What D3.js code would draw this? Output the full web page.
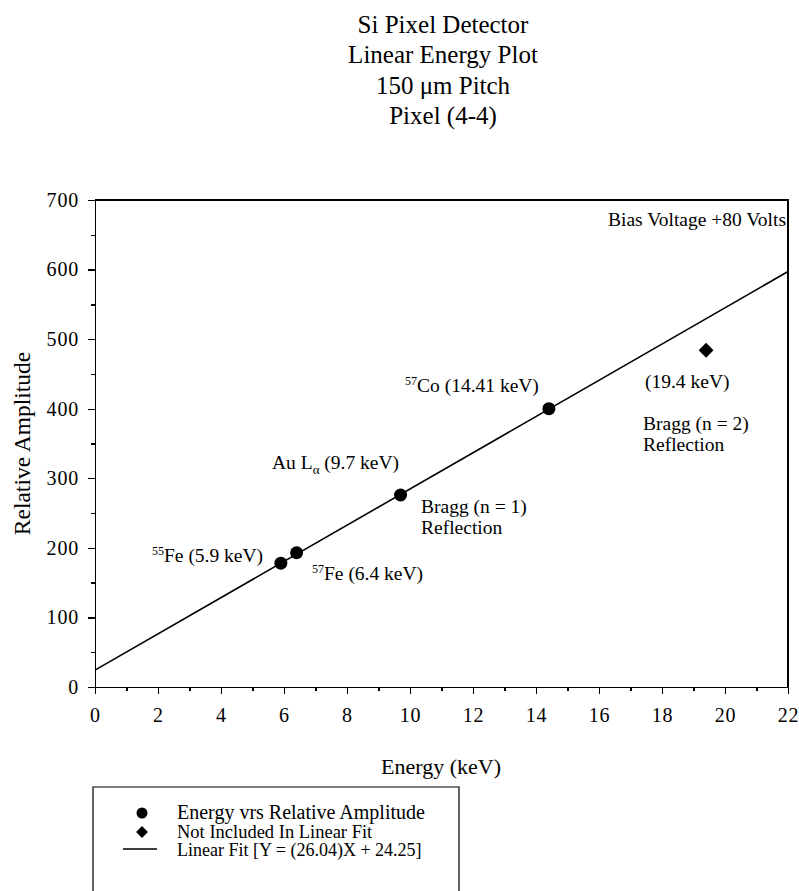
<!DOCTYPE html>
<html lang="en">
<head>
<meta charset="utf-8">
<title>Si Pixel Detector - Linear Energy Plot</title>
<script src="https://cdn.jsdelivr.net/npm/d3@7"></script>
<style>
body { margin: 0; background: #fff; }
.axis path, .axis line { stroke: #000; stroke-width: 1.4; shape-rendering: crispEdges; }
</style>
</head>
<body>
<script>
// measured points (energy keV, relative amplitude)
var energies = [5.9, 6.4, 9.7, 14.41];
var amplitudes = [178, 193, 276, 400];
// Bragg n=2 point, left out of the fit
var outEnergy = [19.4];
var outAmplitude = [484];
// fit from the legend
var fitSlope = 26.04;
var fitIntercept = 24.25;
var fitRange = [0, 22];

var xTicks = [0, 2, 4, 6, 8, 10, 12, 14, 16, 18, 20, 22];
var yTicks = [0, 100, 200, 300, 400, 500, 600, 700];
var titleLines = ["Si Pixel Detector", "Linear Energy Plot", "150 \u03bcm Pitch", "Pixel (4-4)"];
var legendLabels = ["Energy vrs Relative Amplitude", "Not Included In Linear Fit", "Linear Fit [Y = (26.04)X + 24.25]"];

var serif = "'Liberation Serif', 'Times New Roman', serif";
var w = 799, h = 891;
var pLeft = 95, pRight = 788, pTop = 200, pBottom = 687;

var svg = d3.select("body").append("svg")
    .attr("width", w)
    .attr("height", h);

var xScale = d3.scaleLinear().domain([0, 22]).range([pLeft, pRight]);
var yScale = d3.scaleLinear().domain([0, 700]).range([pBottom, pTop]);

// title
svg.selectAll("text.title")
    .data(titleLines)
    .enter().append("text")
    .attr("class", "title")
    .attr("x", 443)
    .attr("y", function(d, i) { return 33 + i * 30.3; })
    .attr("text-anchor", "middle")
    .attr("font-size", "25px")
    .text(function(d) { return d; });

// frame top + right
svg.append("path")
    .attr("d", "M" + pLeft + "," + pTop + "H" + pRight + "V" + pBottom)
    .attr("fill", "none")
    .attr("stroke", "#000")
    .attr("stroke-width", 1.4)
    .attr("shape-rendering", "crispEdges");

// minor ticks
var xMinor = d3.axisBottom(xScale).tickValues(d3.range(1, 22, 2)).tickSize(4).tickFormat("");
var yMinor = d3.axisLeft(yScale).tickValues(d3.range(50, 700, 100)).tickSize(4).tickFormat("");
svg.append("g").attr("class", "axis")
    .attr("transform", "translate(0," + pBottom + ")").call(xMinor);
svg.append("g").attr("class", "axis")
    .attr("transform", "translate(" + pLeft + ",0)").call(yMinor);

var xAxis = d3.axisBottom(xScale).tickValues(xTicks).tickSize(7).tickSizeOuter(0).tickPadding(14);
var yAxis = d3.axisLeft(yScale).tickValues(yTicks).tickSize(7).tickSizeOuter(0).tickPadding(9);

svg.append("g").attr("class", "axis")
    .attr("transform", "translate(0," + pBottom + ")").call(xAxis);
svg.append("g").attr("class", "axis")
    .attr("transform", "translate(" + pLeft + ",0)").call(yAxis);
svg.selectAll(".axis text")
    .attr("font-size", "20px")
    .attr("letter-spacing", "0.8px");

// axis titles
svg.append("text")
    .attr("x", 441).attr("y", 774)
    .attr("text-anchor", "middle")
    .attr("font-size", "22px")
    .text("Energy (keV)");
svg.append("text")
    .attr("transform", "translate(30," + ((pTop + pBottom) / 2) + ") rotate(-90)")
    .attr("text-anchor", "middle")
    .attr("font-size", "23.5px")
    .text("Relative Amplitude");

// fit line
var line = d3.line()
    .x(function(d) { return xScale(d); })
    .y(function(d) { return yScale(fitSlope * d + fitIntercept); });
svg.append("path")
    .datum(fitRange)
    .attr("d", line)
    .attr("fill", "none")
    .attr("stroke", "#000")
    .attr("stroke-width", 1.6);

// points
svg.selectAll("circle.pt")
    .data(energies)
    .enter().append("circle")
    .attr("class", "pt")
    .attr("cx", function(d) { return xScale(d); })
    .attr("cy", function(d, i) { return yScale(amplitudes[i]); })
    .attr("r", 6.5)
    .attr("fill", "#000");

svg.selectAll("path.out")
    .data(outEnergy)
    .enter().append("path")
    .attr("class", "out")
    .attr("transform", function(d, i) {
        return "translate(" + xScale(d) + "," + yScale(outAmplitude[i]) + ") rotate(45)";
    })
    .attr("d", d3.symbol().type(d3.symbolSquare).size(110))
    .attr("fill", "#000");

// annotations
function note(x, y, parts) {
    var t = svg.append("text").attr("x", x).attr("y", y).attr("font-size", "19.5px");
    parts.forEach(function(p) {
        var s = t.append("tspan").text(p[0]);
        if (p[1] === "sup") {
            s.attr("font-size", "12px").attr("dy", -7);
        } else if (p[1] === "sub") {
            s.attr("font-size", "13px").attr("dy", 5);
        } else if (p[1] === "back") {
            s.attr("dy", p[2]);
        }
    });
    return t;
}
note(152, 562, [["55", "sup"], ["Fe (5.9 keV)", "back", 7]]);
note(312, 580, [["57", "sup"], ["Fe (6.4 keV)", "back", 7]]);
note(272, 469, [["Au L"], ["\u03b1", "sub"], [" (9.7 keV)", "back", -5]]);
note(421, 513, [["Bragg (n = 1)"]]);
note(421, 534, [["Reflection"]]);
note(405, 392, [["57", "sup"], ["Co (14.41 keV)", "back", 7]]);
note(645, 388, [["(19.4 keV)"]]);
note(643, 430, [["Bragg (n = 2)"]]);
note(643, 451, [["Reflection"]]);
note(786, 226, [["Bias Voltage +80 Volts"]]).attr("text-anchor", "end");

// legend
var lg = svg.append("g");
lg.append("path")
    .attr("d", "M93,900V787H459V900")
    .attr("fill", "none")
    .attr("stroke", "#000")
    .attr("stroke-width", 1.2);
lg.append("circle").attr("cx", 142).attr("cy", 813).attr("r", 5.5).attr("fill", "#000");
lg.append("path")
    .attr("transform", "translate(142,832) rotate(45)")
    .attr("d", d3.symbol().type(d3.symbolSquare).size(70))
    .attr("fill", "#000");
lg.append("line").attr("x1", 123).attr("x2", 157).attr("y1", 849).attr("y2", 849)
    .attr("stroke", "#000").attr("stroke-width", 1.3);
var legendSizes = [20, 18.5, 18];
lg.selectAll("text")
    .data(legendLabels)
    .enter().append("text")
    .attr("x", 177)
    .attr("y", function(d, i) { return 819 + i * 18.5; })
    .attr("font-size", function(d, i) { return legendSizes[i] + "px"; })
    .text(function(d) { return d; });

// every text in the serif face
svg.selectAll("text")
    .style("font-family", serif)
    .attr("fill", "#000");
</script>
</body>
</html>
